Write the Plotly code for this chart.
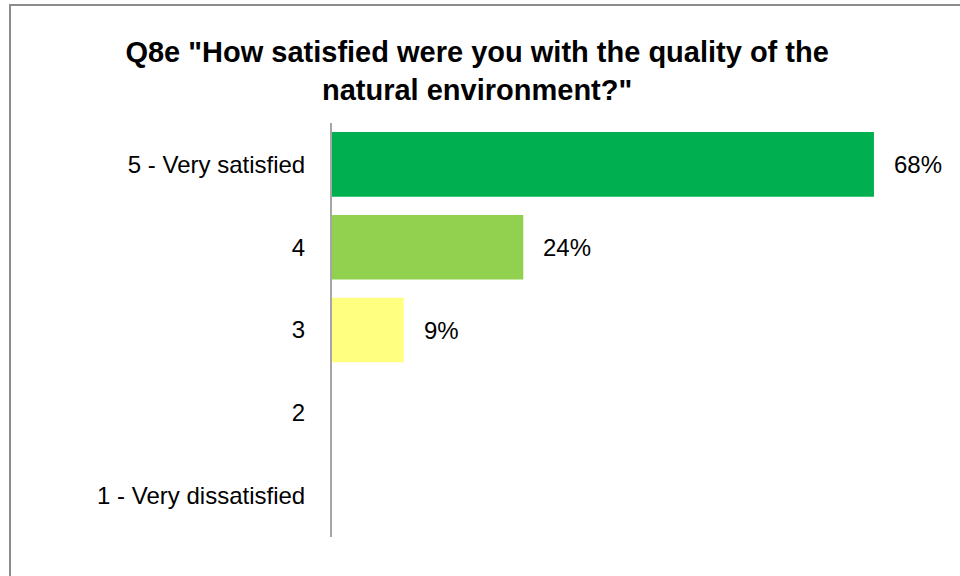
import plotly.graph_objects as go

categories = ["5 - Very satisfied", "4", "3", "2", "1 - Very dissatisfied"]
values = [68, 24, 9, None, None]
labels = ["68%", "24%", "9%", "", ""]
colors = ["#00B050", "#92D050", "#FFFF80", "#FFFFFF", "#FFFFFF"]
title = 'Q8e "How satisfied were you with the quality of the<br>natural environment?"'

W, H = 960, 576
L, R, T, B = 332, 60, 123, 39
xmax = (W - L - R) / 7.97
FONT = "Liberation Sans, Arial"

order = categories[::-1]

fig = go.Figure(go.Bar(
    y=categories, x=values, orientation="h",
    marker=dict(color=colors, line=dict(width=0)),
    width=0.78, hoverinfo="skip",
))

for c, v, t in zip(categories, values, labels):
    if v is not None:
        fig.add_annotation(x=v, y=order.index(c), xref="x", yref="y", text=t,
                           showarrow=False, xanchor="left", xshift=18,
                           font=dict(family=FONT, size=24, color="#000000"))

fig.update_layout(
    width=W, height=H,
    margin=dict(l=L, r=R, t=T, b=B, pad=0, autoexpand=False),
    paper_bgcolor="white", plot_bgcolor="white",
    showlegend=False,
    title=dict(text=title, x=0.497, xanchor="center", y=1 - 62 / H, yanchor="top",
               font=dict(family=FONT, size=29, color="#000000", weight="bold")),
    xaxis=dict(range=[0, xmax], visible=False, fixedrange=True),
    yaxis=dict(type="category", categoryorder="array", categoryarray=order,
               showline=True, linecolor="#A6A6A6", linewidth=2,
               ticks="", showgrid=False, ticklabelstandoff=20, fixedrange=True,
               tickfont=dict(family=FONT, size=24, color="#000000")),
    bargap=0.22,
    shapes=[dict(type="rect", xref="paper", yref="paper",
                 x0=(10 - L) / (W - L - R), x1=(990 - L) / (W - L - R),
                 y0=(H - 600 - B) / (H - T - B), y1=(H - 5 - B) / (H - T - B),
                 line=dict(color="#8C8C8C", width=2), layer="below")],
)

fig.write_html("out.html", config={"displayModeBar": False},
               post_script="document.body.style.margin='0';")
